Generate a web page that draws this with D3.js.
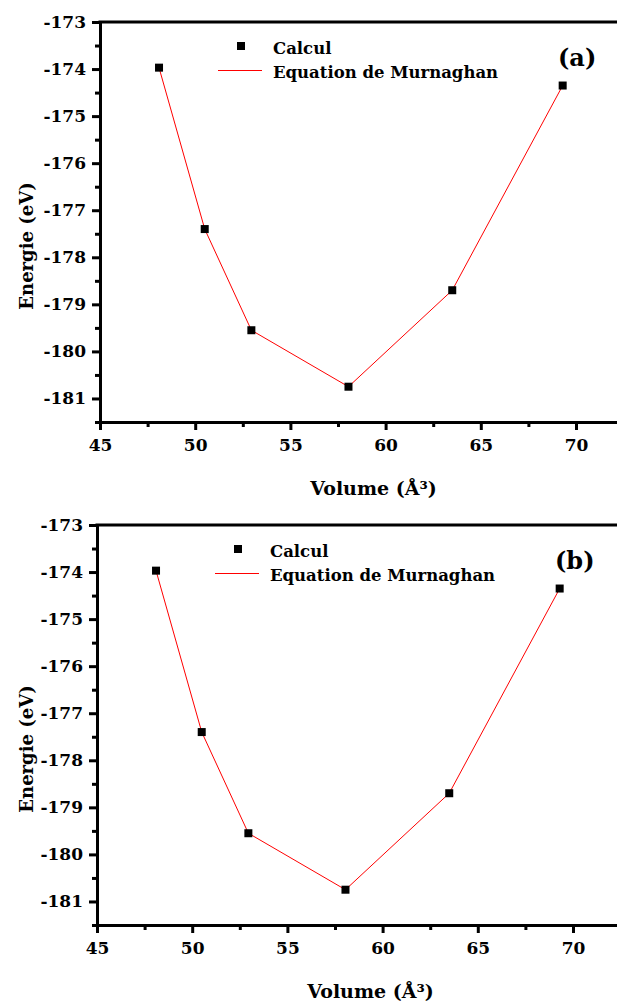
<!DOCTYPE html>
<html>
<head>
<meta charset="utf-8">
<script src="https://cdn.jsdelivr.net/npm/d3@7"></script>
<style>
  body { margin: 0; background: #fff; }
  svg text { font-family: "DejaVu Serif", serif; font-weight: bold; }
</style>
</head>
<body>
<svg></svg>
<script>
const volume = [48.1, 50.5, 52.95, 58.05, 63.5, 69.3];
const energyA = [-173.97, -177.4, -179.55, -180.75, -178.7, -174.35];
const energyB = [-173.97, -177.4, -179.55, -180.75, -178.7, -174.35];
const xTicks = [45, 50, 55, 60, 65, 70];
const yTicks = [-173, -174, -175, -176, -177, -178, -179, -180, -181];
const panels = [
  { label: "(a)", energy: energyA, left: 100, top: 22 },
  { label: "(b)", energy: energyB, left: 97, top: 525 },
];

const svg = d3.select("svg");
svg.attr("width", 617);
svg.attr("height", 1003);

const graphHeight = 400;
const unitX = 19.04;
const fmt = (d) => String(d);

const render = (p) => {
  const xScale = d3.scaleLinear().domain([45, 72.5]).range([0, 27.5 * unitX]);
  const yScale = d3.scaleLinear().domain([-181.5, -173]).range([graphHeight, 0]);

  const g = svg.append("g").attr("transform", `translate(${p.left}, ${p.top})`);

  // minor ticks
  const xMinor = d3.axisBottom(xScale).tickValues(d3.range(47.5, 72.5, 5)).tickSize(5).tickFormat("");
  const yMinor = d3.axisLeft(yScale).tickValues(d3.range(-181.5, -173, 1)).tickSize(5).tickFormat("");
  g.append("g").attr("transform", `translate(0, ${graphHeight})`).call(xMinor);
  g.append("g").call(yMinor);

  const xAxis = d3.axisBottom(xScale).tickValues(xTicks).tickFormat(fmt)
    .tickSize(8).tickSizeOuter(0).tickPadding(9);
  const yAxis = d3.axisLeft(yScale).tickValues(yTicks).tickFormat(fmt)
    .tickSize(8).tickSizeOuter(0).tickPadding(6);
  g.append("g").attr("transform", `translate(0, ${graphHeight})`).call(xAxis);
  g.append("g").call(yAxis);

  g.selectAll("g").attr("font-family", null);
  g.selectAll(".domain, .tick line").attr("stroke", "#000").attr("stroke-width", 3);
  g.selectAll(".tick text").attr("font-size", 17).attr("fill", "#000");

  // top frame line
  g.append("line")
    .attr("x1", -1.5).attr("x2", xScale(72.5))
    .attr("y1", 0).attr("y2", 0)
    .attr("stroke", "#000").attr("stroke-width", 3);

  // curve
  const line = d3.line().x((d, i) => xScale(volume[i])).y((d) => yScale(d));
  g.append("path")
    .attr("d", line(p.energy))
    .attr("fill", "none")
    .attr("stroke", "#ff0000")
    .attr("stroke-width", 1);

  g.selectAll("rect.pt")
    .data(p.energy)
    .enter()
    .append("rect")
    .attr("class", "pt")
    .attr("x", (d, i) => xScale(volume[i]) - 4)
    .attr("y", (d) => yScale(d) - 4)
    .attr("width", 8)
    .attr("height", 8)
    .attr("fill", "#000");

  // legend
  g.append("rect").attr("x", 137).attr("y", 20).attr("width", 8).attr("height", 8).attr("fill", "#000");
  g.append("text").attr("x", 173).attr("y", 32).attr("font-size", 16.5).text("Calcul");
  g.append("line").attr("x1", 118).attr("x2", 162).attr("y1", 48.5).attr("y2", 48.5)
    .attr("stroke", "#ff0000").attr("stroke-width", 1);
  g.append("text").attr("x", 173).attr("y", 56).attr("font-size", 16.5).text("Equation de Murnaghan");

  g.append("text").attr("x", 458).attr("y", 44).attr("font-size", 24).text(p.label);

  // axis titles
  g.append("text")
    .attr("x", 273.5).attr("y", graphHeight + 73)
    .attr("text-anchor", "middle").attr("font-size", 19)
    .text("Volume (Å³)");
  g.append("text")
    .attr("transform", `translate(${33 - p.left}, ${224}) rotate(-90)`)
    .attr("text-anchor", "middle").attr("font-size", 18)
    .text("Energie (eV)");
};

panels.forEach(render);
</script>
</body>
</html>
